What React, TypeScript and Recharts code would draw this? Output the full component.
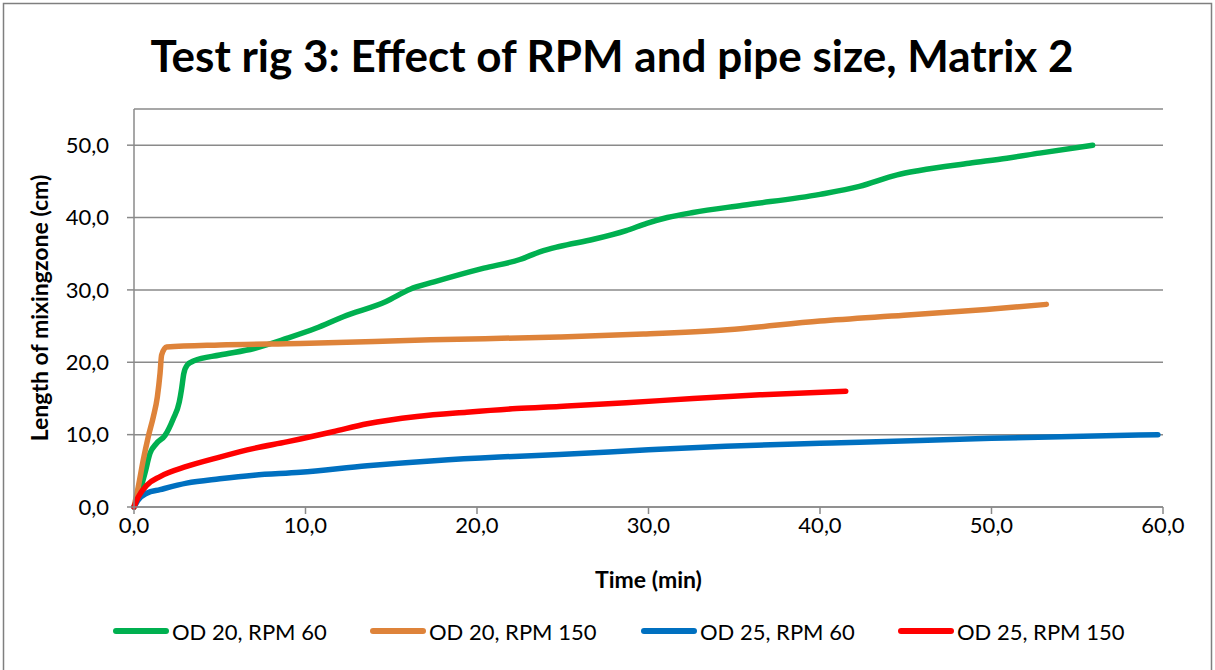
import React from 'react';
import { LineChart, Line, XAxis, YAxis, CartesianGrid, Legend } from 'recharts';

// Time (min) and length of mixing zone (cm) per test series
const od20Rpm60Time = [0, 0.35, 0.64, 0.93, 1.32, 1.81, 2.29, 2.64, 2.78, 2.9, 3.1, 3.5, 5.0, 7.0, 8.9, 10.6, 12.2, 14.7, 16.1, 17.5, 20.4, 22.5, 23.7, 24.8, 26.8, 28.7, 29.9, 31.1, 32.6, 35.5, 40.0, 42.3, 44.5, 45.8, 48.7, 50.9, 52.8, 55.9];
const od20Rpm60Length = [0, 2.3, 4.7, 7.4, 8.8, 9.9, 12.2, 14.5, 16.4, 18.4, 19.6, 20.2, 21.0, 21.9, 23.3, 24.7, 26.3, 28.4, 30.1, 31.1, 33.0, 34.2, 35.3, 36.0, 37.0, 38.2, 39.2, 40.0, 40.7, 41.7, 43.2, 44.3, 45.9, 46.5, 47.5, 48.2, 48.9, 50.0];

const od20Rpm150Time = [0, 0.25, 0.54, 0.83, 1.13, 1.36, 1.52, 1.61, 1.9, 5.0, 9.7, 17.3, 24.8, 29.7, 34.6, 40.0, 44.9, 49.7, 53.2];
const od20Rpm150Length = [0, 2.8, 6.5, 9.7, 12.5, 15.2, 18.5, 21.0, 22.1, 22.4, 22.6, 23.1, 23.5, 23.9, 24.5, 25.7, 26.5, 27.3, 28.0];

const od25Rpm60Time = [0, 0.25, 0.74, 1.52, 3.07, 5.0, 7.0, 9.7, 13.6, 17.5, 21.3, 24.8, 30.0, 34.5, 40.0, 42.3, 50.0, 59.7];
const od25Rpm60Length = [0, 1.0, 1.9, 2.4, 3.3, 3.9, 4.4, 4.8, 5.7, 6.4, 6.9, 7.25, 7.9, 8.4, 8.8, 8.95, 9.5, 10.0];

const od25Rpm150Time = [0, 0.25, 0.74, 1.52, 3.07, 5.0, 7.0, 8.9, 9.7, 11.6, 13.6, 16.5, 19.4, 22.3, 24.8, 28.7, 32.6, 36.5, 41.5];
const od25Rpm150Length = [0, 1.4, 3.0, 4.2, 5.6, 6.9, 8.1, 9.0, 9.4, 10.4, 11.5, 12.5, 13.1, 13.6, 13.9, 14.4, 15.0, 15.5, 16.0];

const seriesNames = ['OD 20, RPM 60', 'OD 20, RPM 150', 'OD 25, RPM 60', 'OD 25, RPM 150'];
const seriesColors = ['#00B050', '#DE833A', '#0070C0', '#FF0000'];

const timeTicks = [0, 10, 20, 30, 40, 50, 60];
const lengthTicks = [0, 10, 20, 30, 40, 50];

const titleText = 'Test rig 3: Effect of RPM and pipe size, Matrix 2';
const xTitle = 'Time (min)';
const yTitle = 'Length of mixingzone (cm)';

const toRows = (t: number[], v: number[]) => t.map((x, i) => ({ t: x, v: v[i] }));

const seriesData = [
  toRows(od20Rpm60Time, od20Rpm60Length),
  toRows(od20Rpm150Time, od20Rpm150Length),
  toRows(od25Rpm60Time, od25Rpm60Length),
  toRows(od25Rpm150Time, od25Rpm150Length),
];

const FONT = 'Lato, "Open Sans", sans-serif';
const AXIS_GRAY = '#8a8a8a';
const FRAME_GRAY = '#7f7f7f';
const W = 1215;
const H = 670;

const fmt = (v: number) => v.toFixed(1).replace('.', ',');

const legendLefts = [113, 370, 641, 898];

const renderLegend = () => (
  <div style={{ position: 'relative', width: W, height: 40 }}>
    {seriesNames.map((name, i) => (
      <div
        key={name}
        style={{
          position: 'absolute',
          left: legendLefts[i],
          top: 0,
          height: 40,
          display: 'flex',
          alignItems: 'center',
          fontFamily: FONT,
          fontSize: 22,
          color: '#000',
          whiteSpace: 'nowrap',
        }}
      >
        <svg width={56} height={10} style={{ marginRight: 3 }}>
          <line x1={3} y1={5} x2={53} y2={5} stroke={seriesColors[i]} strokeWidth={6} strokeLinecap="round" />
        </svg>
        <span>{name}</span>
      </div>
    ))}
  </div>
);

export default function App() {
  return (
    <div style={{ position: 'absolute', left: 0, top: 0, width: W, height: H, background: '#fff', overflow: 'hidden' }}>
      <LineChart width={W} height={H} margin={{ top: 109, right: 52, bottom: 0, left: 0 }}>
        <CartesianGrid vertical={false} stroke={AXIS_GRAY} strokeWidth={1.5} />
        <XAxis
          type="number"
          dataKey="t"
          domain={[0, 60]}
          ticks={timeTicks}
          tickFormatter={fmt}
          allowDuplicatedCategory={false}
          stroke={AXIS_GRAY}
          strokeWidth={1.5}
          tickSize={7}
          tickMargin={3}
          tick={{ fill: '#000', fontSize: 22, fontFamily: FONT }}
          height={163}
          label={{
            content: ({ viewBox }: any) => (
              <text
                x={viewBox.x + viewBox.width / 2}
                y={588}
                textAnchor="middle"
                fontFamily={FONT}
                fontWeight="bold"
                fontSize={23}
                fill="#000"
              >
                {xTitle}
              </text>
            ),
          }}
        />
        <YAxis
          type="number"
          dataKey="v"
          domain={[0, 55]}
          ticks={lengthTicks}
          tickFormatter={fmt}
          stroke={AXIS_GRAY}
          strokeWidth={1.5}
          tickSize={7}
          tickMargin={18}
          width={134}
          tick={{ fill: '#000', fontSize: 22, fontFamily: FONT }}
          label={{
            content: ({ viewBox }: any) => {
              const cy = viewBox.y + viewBox.height / 2;
              return (
                <text
                  x={48}
                  y={cy}
                  transform={`rotate(-90 48 ${cy})`}
                  textAnchor="middle"
                  fontFamily={FONT}
                  fontWeight="bold"
                  fontSize={23}
                  fill="#000"
                >
                  {yTitle}
                </text>
              );
            },
          }}
        />
        <Legend
          layout="horizontal"
          verticalAlign="middle"
          align="center"
          content={renderLegend}
          wrapperStyle={{ top: 611, left: 0, width: W, height: 40 }}
        />
        {seriesNames.map((name, i) => (
          <Line
            key={name}
            name={name}
            data={seriesData[i]}
            dataKey="v"
            type="monotone"
            stroke={seriesColors[i]}
            strokeWidth={5.5}
            strokeLinecap="round"
            strokeLinejoin="round"
            dot={false}
            activeDot={false}
            isAnimationActive={false}
          />
        ))}
      </LineChart>
      <svg
        width={W}
        height={H}
        style={{ position: 'absolute', left: 0, top: 0, pointerEvents: 'none', zIndex: 5 }}
      >
        <rect x={3.5} y={3.5} width={1208} height={700} fill="none" stroke={FRAME_GRAY} strokeWidth={1.5} />
        <text
          x={612}
          y={72}
          textAnchor="middle"
          fontFamily={FONT}
          fontWeight="bold"
          fontSize={44}
          fill="#000"
        >
          {titleText}
        </text>
      </svg>
    </div>
  );
}
